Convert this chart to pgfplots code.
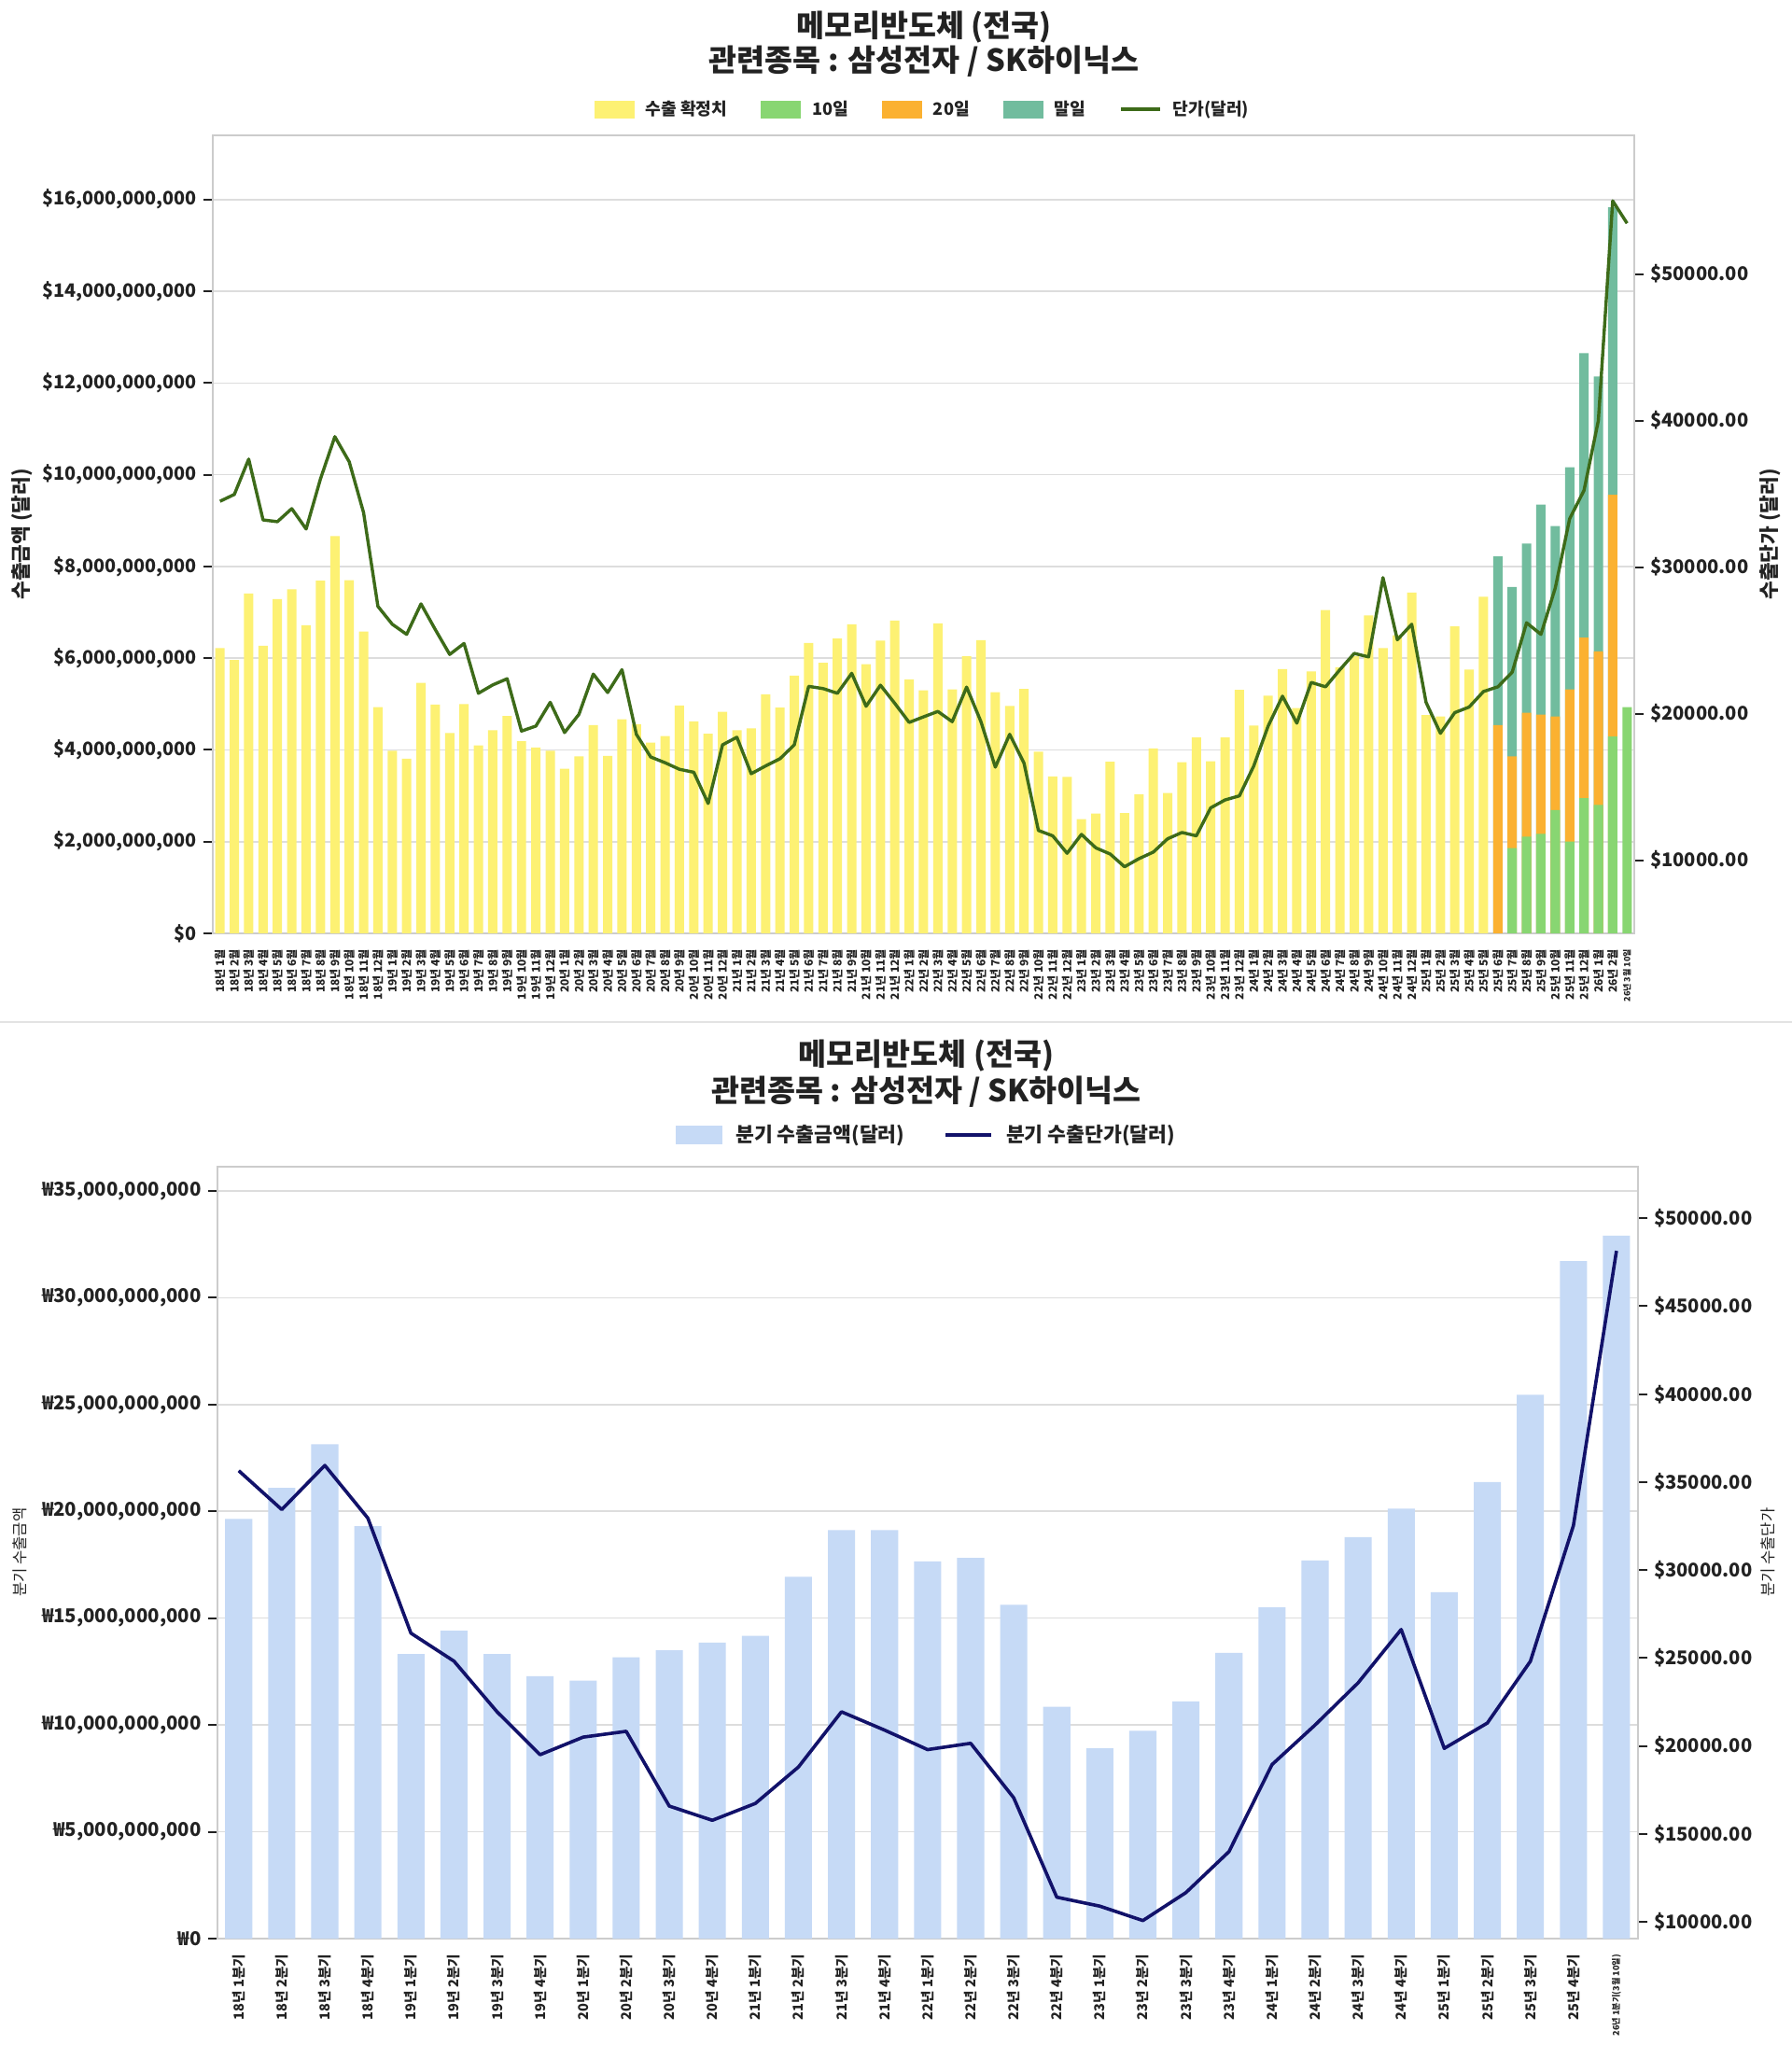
\documentclass[border=0pt]{standalone}
\usepackage{fontspec}
\setmainfont{Noto Sans CJK KR}
\usepackage{pgfplots}
\pgfplotsset{compat=1.18}
\definecolor{cyel}{HTML}{FDF173}
\definecolor{cgrn}{HTML}{88D672}
\definecolor{corg}{HTML}{FBB131}
\definecolor{cteal}{HTML}{71BC9E}
\definecolor{cline}{HTML}{3D6B19}
\definecolor{cblue}{HTML}{C6DAF6}
\definecolor{cnavy}{HTML}{12126A}
\definecolor{cgrid}{HTML}{DDDDDD}
\definecolor{cspine}{HTML}{CCCCCC}
\definecolor{ctxt}{HTML}{222222}
\pgfplotsset{
  base/.style={scale only axis, anchor=south west, enlargelimits=false,
    axis line style={cspine, line width=1pt}, tick align=outside,
    major tick length=5pt, xtick style={draw=none}, scaled y ticks=false,
    ytick style={ctxt, line width=1pt}, tick label style={color=ctxt}},
}
\begin{document}
\begin{tikzpicture}
\useasboundingbox (0,0) rectangle (960pt,1095.5pt);
\fill[white] (0,0) rectangle (960pt,1095.5pt);
\draw[gray!22, line width=1pt] (0,548pt) -- (960pt,548pt);
% ---------------- TOP CHART ----------------
\node[font=\bfseries\fontsize{16.3}{19}\selectfont, color=ctxt] at (495pt,1081.2pt) {메모리반도체 (전국)};
\node[font=\bfseries\fontsize{16.3}{19}\selectfont, color=ctxt] at (495pt,1062.5pt) {관련종목 : 삼성전자 / SK하이닉스};
\node[font=\bfseries\fontsize{10.7}{12}\selectfont, color=ctxt, rotate=90] at (12pt,809.25pt) {수출금액 (달러)};
\node[font=\bfseries\fontsize{10.7}{12}\selectfont, color=ctxt, rotate=90] at (948.5pt,809.25pt) {수출단가 (달러)};
\begin{axis}[base, at={(114pt,595.5pt)}, width=761.5pt, height=427.5pt,
  xmin=-0.5, xmax=98.5, ymin=0, ymax=17.4,
  ymajorgrids, grid style={cgrid, line width=0.8pt}, ytick pos=left,
  ytick={0,2,4,6,8,10,12,14,16},
  yticklabels={{\$0},{\$2,000,000,000},{\$4,000,000,000},{\$6,000,000,000},{\$8,000,000,000},{\$10,000,000,000},{\$12,000,000,000},{\$14,000,000,000},{\$16,000,000,000}},
  yticklabel style={font=\bfseries\fontsize{9.9}{12}\selectfont},
  xtick={0,...,98},
  xticklabels={18년 1월,18년 2월,18년 3월,18년 4월,18년 5월,18년 6월,18년 7월,18년 8월,18년 9월,18년 10월,18년 11월,18년 12월,
  19년 1월,19년 2월,19년 3월,19년 4월,19년 5월,19년 6월,19년 7월,19년 8월,19년 9월,19년 10월,19년 11월,19년 12월,
  20년 1월,20년 2월,20년 3월,20년 4월,20년 5월,20년 6월,20년 7월,20년 8월,20년 9월,20년 10월,20년 11월,20년 12월,
  21년 1월,21년 2월,21년 3월,21년 4월,21년 5월,21년 6월,21년 7월,21년 8월,21년 9월,21년 10월,21년 11월,21년 12월,
  22년 1월,22년 2월,22년 3월,22년 4월,22년 5월,22년 6월,22년 7월,22년 8월,22년 9월,22년 10월,22년 11월,22년 12월,
  23년 1월,23년 2월,23년 3월,23년 4월,23년 5월,23년 6월,23년 7월,23년 8월,23년 9월,23년 10월,23년 11월,23년 12월,
  24년 1월,24년 2월,24년 3월,24년 4월,24년 5월,24년 6월,24년 7월,24년 8월,24년 9월,24년 10월,24년 11월,24년 12월,
  25년 1월,25년 2월,25년 3월,25년 4월,25년 5월,25년 6월,25년 7월,25년 8월,25년 9월,25년 10월,25년 11월,25년 12월,
  26년 1월,26년 2월,{\fontsize{4.5}{5}\selectfont 26년 3월 10일}},
  xticklabel style={rotate=90, anchor=east, font=\bfseries\fontsize{6}{6.5}\selectfont},
  legend columns=5,
  legend style={at={(0.5,1)}, anchor=center, yshift=14pt, draw=none, fill=none,
    font=\bfseries\fontsize{9.1}{11}\selectfont, text=ctxt,
    /tikz/every odd column/.append style={column sep=4pt},
    /tikz/every even column/.append style={column sep=16pt}},
]
\addlegendimage{legend image code/.code={\fill[cyel] (0pt,-4.5pt) rectangle (21pt,4.5pt);}}
\addlegendentry{수출 확정치}
\addlegendimage{legend image code/.code={\fill[cgrn] (0pt,-4.5pt) rectangle (21pt,4.5pt);}}
\addlegendentry{10일}
\addlegendimage{legend image code/.code={\fill[corg] (0pt,-4.5pt) rectangle (21pt,4.5pt);}}
\addlegendentry{20일}
\addlegendimage{legend image code/.code={\fill[cteal] (0pt,-4.5pt) rectangle (21pt,4.5pt);}}
\addlegendentry{말일}
\addlegendimage{legend image code/.code={\draw[cline, line width=1.8pt] (0pt,0pt) -- (21pt,0pt);}}
\addlegendentry{단가(달러)}
% 수출 확정치 (billion USD)
\addplot[ybar, bar width=0.65, bar shift=0pt, fill=cyel, draw=none, forget plot] table {
x y
0 6.22
1 5.96
2 7.41
3 6.27
4 7.29
5 7.50
6 6.72
7 7.69
8 8.66
9 7.70
10 6.58
11 4.93
12 3.98
13 3.81
14 5.46
15 4.99
16 4.37
17 5.00
18 4.10
19 4.43
20 4.74
21 4.19
22 4.05
23 3.98
24 3.59
25 3.86
26 4.54
27 3.87
28 4.67
29 4.56
30 4.16
31 4.30
32 4.97
33 4.62
34 4.35
35 4.83
36 4.43
37 4.47
38 5.21
39 4.92
40 5.62
41 6.33
42 5.90
43 6.43
44 6.74
45 5.87
46 6.38
47 6.82
48 5.54
49 5.30
50 6.76
51 5.32
52 6.04
53 6.39
54 5.26
55 4.96
56 5.33
57 3.96
58 3.42
59 3.41
60 2.49
61 2.61
62 3.74
63 2.62
64 3.03
65 4.03
66 3.06
67 3.73
68 4.27
69 3.75
70 4.27
71 5.31
72 4.53
73 5.18
74 5.76
75 4.91
76 5.71
77 7.05
78 5.80
79 6.04
80 6.93
81 6.22
82 6.50
83 7.43
84 4.76
85 4.73
86 6.69
87 5.75
88 7.34
};
% 말일 (cumulative total)
\addplot[ybar, bar width=0.65, bar shift=0pt, fill=cteal, draw=none, forget plot] table {
x y
89 8.22
90 7.55
91 8.50
92 9.35
93 8.88
94 10.16
95 12.65
96 12.14
97 15.83
};
% 20일 (cumulative)
\addplot[ybar, bar width=0.65, bar shift=0pt, fill=corg, draw=none, forget plot] table {
x y
89 4.54
90 3.86
91 4.81
92 4.77
93 4.73
94 5.32
95 6.45
96 6.15
97 9.56
};
% 10일
\addplot[ybar, bar width=0.65, bar shift=0pt, fill=cgrn, draw=none, forget plot] table {
x y
90 1.86
91 2.11
92 2.17
93 2.69
94 2.00
95 2.95
96 2.80
97 4.29
98 4.93
};
\end{axis}
\begin{axis}[base, at={(114pt,595.5pt)}, width=761.5pt, height=427.5pt,
  xmin=-0.5, xmax=98.5, ymin=5006, ymax=59465,
  axis y line*=right, axis x line=none,
  ytick={10000,20000,30000,40000,50000},
  yticklabels={{\$10000.00},{\$20000.00},{\$30000.00},{\$40000.00},{\$50000.00}},
  yticklabel style={font=\bfseries\fontsize{10.1}{12}\selectfont},
]
\addplot[cline, line width=1.7pt, line join=round] table {
x y
0 34490
1 34960
2 37370
3 33220
4 33100
5 33990
6 32600
7 36020
8 38900
9 37190
10 33720
11 27320
12 26100
13 25410
14 27490
15 25730
16 24040
17 24790
18 21390
19 21960
20 22380
21 18810
22 19150
23 20770
24 18710
25 19950
26 22700
27 21440
28 23000
29 18590
30 17040
31 16650
32 16200
33 16000
34 13870
35 17870
36 18390
37 15900
38 16430
39 16920
40 17870
41 21860
42 21710
43 21390
44 22750
45 20500
46 21940
47 20700
48 19400
49 19780
50 20150
51 19450
52 21810
53 19450
54 16350
55 18590
56 16620
57 12030
58 11660
59 10470
60 11760
61 10840
62 10420
63 9550
64 10100
65 10550
66 11460
67 11890
68 11660
69 13570
70 14110
71 14390
72 16430
73 19150
74 21190
75 19350
76 22130
77 21830
78 23000
79 24110
80 23870
81 29280
82 25040
83 26100
84 20770
85 18660
86 20070
87 20450
88 21510
89 21830
90 22830
91 26200
92 25410
93 28580
94 33300
95 35230
96 40000
97 54990
98 53460
};
\end{axis}
% ---------------- BOTTOM CHART ----------------
\node[font=\bfseries\fontsize{16.3}{19}\selectfont, color=ctxt] at (496.3pt,530pt) {메모리반도체 (전국)};
\node[font=\bfseries\fontsize{16.3}{19}\selectfont, color=ctxt] at (496.3pt,510.5pt) {관련종목 : 삼성전자 / SK하이닉스};
\node[font=\fontsize{8.3}{10}\selectfont, color=ctxt, rotate=90] at (10.5pt,263.85pt) {분기 수출금액};
\node[font=\fontsize{8.3}{10}\selectfont, color=ctxt, rotate=90] at (947pt,263.85pt) {분기 수출단가};
\begin{axis}[base, at={(116.35pt,57pt)}, width=761.15pt, height=413.7pt,
  xmin=-0.5, xmax=32.5, ymin=0, ymax=36.15,
  ymajorgrids, grid style={cgrid, line width=0.8pt}, ytick pos=left,
  ytick={0,5,10,15,20,25,30,35},
  yticklabels={{₩0},{₩5,000,000,000},{₩10,000,000,000},{₩15,000,000,000},{₩20,000,000,000},{₩25,000,000,000},{₩30,000,000,000},{₩35,000,000,000}},
  yticklabel style={font=\bfseries\fontsize{10.2}{12}\selectfont},
  xtick={0,...,32},
  xticklabels={18년 1분기,18년 2분기,18년 3분기,18년 4분기,19년 1분기,19년 2분기,19년 3분기,19년 4분기,
  20년 1분기,20년 2분기,20년 3분기,20년 4분기,21년 1분기,21년 2분기,21년 3분기,21년 4분기,
  22년 1분기,22년 2분기,22년 3분기,22년 4분기,23년 1분기,23년 2분기,23년 3분기,23년 4분기,
  24년 1분기,24년 2분기,24년 3분기,24년 4분기,25년 1분기,25년 2분기,25년 3분기,25년 4분기,
  {\fontsize{4.6}{5}\selectfont 26년 1분기(3월 10일)}},
  xticklabel style={rotate=90, anchor=east, font=\bfseries\fontsize{7.3}{8}\selectfont},
  legend columns=2,
  legend style={at={(0.5,1)}, anchor=center, yshift=16.8pt, draw=none, fill=none,
    font=\bfseries\fontsize{10.8}{12}\selectfont, text=ctxt,
    /tikz/every odd column/.append style={column sep=5pt},
    /tikz/every even column/.append style={column sep=19pt}},
]
\addlegendimage{legend image code/.code={\fill[cblue] (0pt,-4.75pt) rectangle (24.5pt,4.75pt);}}
\addlegendentry{분기 수출금액(달러)}
\addlegendimage{legend image code/.code={\draw[cnavy, line width=1.8pt] (0pt,0pt) -- (24.5pt,0pt);}}
\addlegendentry{분기 수출단가(달러)}
\addplot[ybar, bar width=0.63, bar shift=0pt, fill=cblue, draw=none, forget plot] table {
x y
0 19.64
1 21.10
2 23.14
3 19.31
4 13.32
5 14.41
6 13.32
7 12.28
8 12.07
9 13.17
10 13.50
11 13.86
12 14.17
13 16.94
14 19.12
15 19.12
16 17.66
17 17.82
18 15.63
19 10.85
20 8.91
21 9.73
22 11.10
23 13.38
24 15.51
25 17.70
26 18.79
27 20.13
28 16.21
29 21.37
30 25.45
31 31.71
32 32.90
};
\end{axis}
\begin{axis}[base, at={(116.35pt,57pt)}, width=761.15pt, height=413.7pt,
  xmin=-0.5, xmax=32.5, ymin=9045, ymax=52956,
  axis y line*=right, axis x line=none,
  ytick={10000,15000,20000,25000,30000,35000,40000,45000,50000},
  yticklabels={{\$10000.00},{\$15000.00},{\$20000.00},{\$25000.00},{\$30000.00},{\$35000.00},{\$40000.00},{\$45000.00},{\$50000.00}},
  yticklabel style={font=\bfseries\fontsize{10.1}{12}\selectfont},
]
\addplot[cnavy, line width=1.8pt, line join=round] table {
x y
0 35650
1 33440
2 35950
3 32950
4 26410
5 24820
6 21940
7 19500
8 20500
9 20830
10 16580
11 15770
12 16730
13 18800
14 21940
15 20900
16 19790
17 20150
18 17050
19 11400
20 10890
21 10070
22 11660
23 13990
24 18940
25 21190
26 23590
27 26620
28 19860
29 21300
30 24810
31 32530
32 48150
};
\end{axis}
\end{tikzpicture}
\end{document}
